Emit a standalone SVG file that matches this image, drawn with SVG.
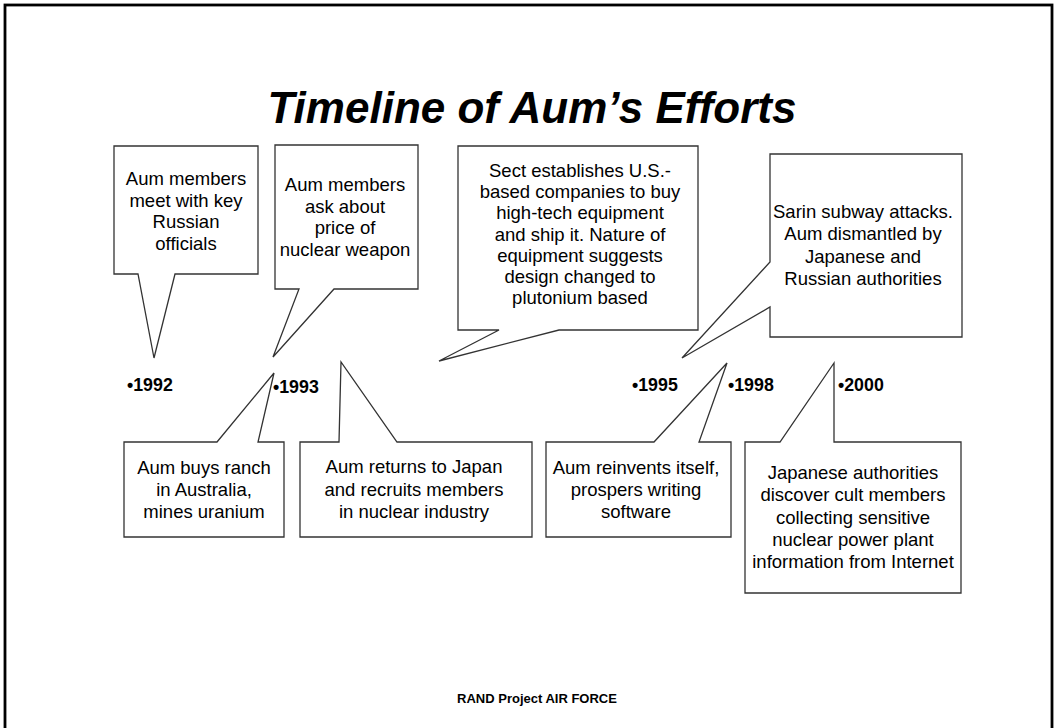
<svg xmlns="http://www.w3.org/2000/svg" width="1058" height="728" viewBox="0 0 1058 728">
<style>
.frame{fill:none;stroke:#000;stroke-width:2.8}
.callout{fill:#fff;stroke:#333;stroke-width:1.3;stroke-linejoin:miter}
.t{font-family:"Liberation Sans",Arial,sans-serif;font-size:18.5px;fill:#000;text-anchor:middle}
.yr{font-family:"Liberation Sans",Arial,sans-serif;font-size:17.8px;font-weight:bold;fill:#000}
.title{font-family:"Liberation Sans",Arial,sans-serif;font-size:44px;font-weight:bold;font-style:italic;fill:#000;text-anchor:middle}
.foot{font-family:"Liberation Sans",Arial,sans-serif;font-size:13px;font-weight:bold;fill:#000;text-anchor:middle}
</style>
<rect width="1058" height="728" fill="#fff"/>
<rect class="frame" x="5" y="5" width="1047" height="740"/>
<text class="title" x="532" y="123">Timeline of Aum’s Efforts</text>

<g id="connectors"></g>

<g id="n1992-top">
<path class="callout" d="M114,146 H258 V274 H175 L154,358 L138,274 H114 Z"/>
<text class="t" x="186" y="185">Aum members</text>
<text class="t" x="186" y="206.5">meet with key</text>
<text class="t" x="186" y="228">Russian</text>
<text class="t" x="186" y="249.5">officials</text>
</g>

<g id="n1993-top">
<path class="callout" d="M275,145 H418 V289 H334 L273,357 L299,289 H275 Z"/>
<text class="t" x="345" y="191">Aum members</text>
<text class="t" x="345" y="212.5">ask about</text>
<text class="t" x="345" y="234">price of</text>
<text class="t" x="345" y="255.5">nuclear weapon</text>
</g>

<g id="n-sect">
<path class="callout" d="M458,146 H698 V330 H559 L439,361 L499,330 H458 Z"/>
<text class="t" x="580" y="177">Sect establishes U.S.-</text>
<text class="t" x="580" y="198.2">based companies to buy</text>
<text class="t" x="580" y="219.4">high-tech equipment</text>
<text class="t" x="580" y="240.6">and ship it. Nature of</text>
<text class="t" x="580" y="261.8">equipment suggests</text>
<text class="t" x="580" y="283">design changed to</text>
<text class="t" x="580" y="304.2">plutonium based</text>
</g>

<g id="n1995-top">
<path class="callout" d="M770,154 H962 V337 H770 V307 L682,358 L770,262 Z"/>
<text class="t" x="863" y="218">Sarin subway attacks.</text>
<text class="t" x="863" y="240.3">Aum dismantled by</text>
<text class="t" x="863" y="262.6">Japanese and</text>
<text class="t" x="863" y="284.9">Russian authorities</text>
</g>

<g id="n-ranch">
<path class="callout" d="M124,442 H217 L274,373 L258,442 H284 V537 H124 Z"/>
<text class="t" x="204" y="474">Aum buys ranch</text>
<text class="t" x="204" y="496">in Australia,</text>
<text class="t" x="204" y="518">mines uranium</text>
</g>

<g id="n-returns">
<path class="callout" d="M300,442 H339 L341,362 L397,442 H532 V537 H300 Z"/>
<text class="t" x="414" y="473">Aum returns to Japan</text>
<text class="t" x="414" y="495.5">and recruits members</text>
<text class="t" x="414" y="518">in nuclear industry</text>
</g>

<g id="n-reinvents">
<path class="callout" d="M546,442 H654 L727,363 L699,442 H731 V537 H546 Z"/>
<text class="t" x="636" y="474">Aum reinvents itself,</text>
<text class="t" x="636" y="496">prospers writing</text>
<text class="t" x="636" y="518">software</text>
</g>

<g id="n-japanese">
<path class="callout" d="M745,442 H780 L834,363 V442 H961 V593 H745 Z"/>
<text class="t" x="853" y="479">Japanese authorities</text>
<text class="t" x="853" y="501.3">discover cult members</text>
<text class="t" x="853" y="523.6">collecting sensitive</text>
<text class="t" x="853" y="545.9">nuclear power plant</text>
<text class="t" x="853" y="568.2">information from Internet</text>
</g>

<g id="years">
<text id="y1992" class="yr" x="127" y="391">•1992</text>
<text id="y1993" class="yr" x="273" y="393">•1993</text>
<text id="y1995" class="yr" x="632" y="391">•1995</text>
<text id="y1998" class="yr" x="728" y="391">•1998</text>
<text id="y2000" class="yr" x="838" y="391">•2000</text>
</g>

<text class="foot" x="537" y="703">RAND Project AIR FORCE</text>
</svg>
